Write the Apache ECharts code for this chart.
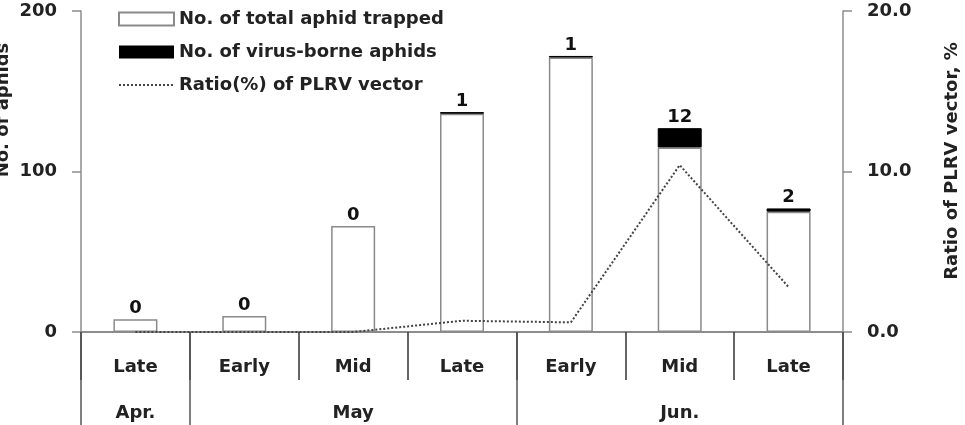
<!DOCTYPE html>
<html>
<head>
<meta charset="utf-8">
<script src="https://cdn.jsdelivr.net/npm/echarts@6/dist/echarts.min.js"></script>
<style>
  html, body { margin: 0; padding: 0; background: #fff; }
  #chart { width: 965px; height: 425px; }
</style>
</head>
<body>
<div id="chart"></div>
<script>
// periods within each month, and the month row under them
const periods = ['Late', 'Early', 'Mid', 'Late ', 'Early ', 'Mid ', 'Late  ']
const monthLabels = ['Apr.', '', 'May', '', '', 'Jun.', '']
const monthStarts = [0, 1, 4]

// aphid counts (left axis) and ratio (right axis)
const totalTrapped = [8, 10, 66, 136, 171, 115, 75]
const virusBorne = [0, 0, 0, 1, 1, 12, 2]
const ratioPLRV = [0, 0, 0, 0.7, 0.6, 10.4, 2.8]

const leftTicks = { min: 0, max: 200, interval: 100 }
const rightTicks = { min: 0, max: 20, interval: 10 }

const font = 'DejaVu Sans'
const axisGray = '#8c8c8c'

let myChart = echarts.init(document.getElementById('chart'))
let option = {
  animation: false,
  textStyle: { fontFamily: font },
  grid: { left: 81, right: 122, top: 11, bottom: 93 },
  legend: {
    orient: 'vertical',
    left: 118,
    top: 9,
    padding: 0,
    itemWidth: 55,
    itemHeight: 13,
    itemGap: 13,
    textStyle: { fontFamily: font, fontSize: 18, fontWeight: 'bold', color: '#222', lineHeight: 20 },
    data: [
      { name: 'No. of total aphid trapped', icon: 'rect' },
      { name: 'No. of virus-borne aphids', icon: 'rect' },
      { name: 'Ratio(%) of PLRV vector', itemStyle: { color: 'rgba(0,0,0,0)', borderWidth: 0 } }
    ]
  },
  xAxis: [
    {
      type: 'category',
      data: periods,
      position: 'bottom',
      axisLine: { show: true, onZero: false, lineStyle: { color: axisGray, width: 2 } },
      axisTick: { show: true, length: 48, lineStyle: { color: '#333', width: 1.5 } },
      axisLabel: {
        margin: 26,
        fontSize: 18,
        fontWeight: 'bold',
        color: '#222',
        formatter: function(v) { return v.trim() }
      }
    },
    {
      type: 'category',
      data: periods,
      position: 'bottom',
      axisLine: { show: false, onZero: false },
      axisTick: {
        show: true,
        length: 93,
        interval: function(i) { return monthStarts.indexOf(i) >= 0 },
        lineStyle: { color: '#555', width: 1.5 }
      },
      axisLabel: {
        interval: 0,
        margin: 72,
        fontSize: 18,
        fontWeight: 'bold',
        color: '#222',
        formatter: function(v, i) { return monthLabels[i] }
      }
    }
  ],
  yAxis: [
    {
      type: 'value',
      min: leftTicks.min,
      max: leftTicks.max,
      interval: leftTicks.interval,
      axisLine: { show: true, lineStyle: { color: axisGray, width: 1.5 } },
      axisTick: { show: true, length: 9, lineStyle: { color: axisGray, width: 1.5 } },
      splitLine: { show: false },
      axisLabel: { margin: 24, fontSize: 18, fontWeight: 'bold', color: '#222' }
    },
    {
      type: 'value',
      min: rightTicks.min,
      max: rightTicks.max,
      interval: rightTicks.interval,
      position: 'right',
      axisLine: { show: true, lineStyle: { color: axisGray, width: 1.5 } },
      axisTick: { show: true, length: 9, lineStyle: { color: axisGray, width: 1.5 } },
      splitLine: { show: false },
      axisLabel: {
        margin: 24,
        fontSize: 18,
        fontWeight: 'bold',
        color: '#222',
        formatter: function(v) { return v.toFixed(1) }
      }
    }
  ],
  series: [
    {
      name: 'No. of total aphid trapped',
      type: 'bar',
      stack: 'aphids',
      barWidth: 44,
      data: totalTrapped,
      itemStyle: { color: '#fff', borderColor: '#8a8a8a', borderWidth: 1.5 }
    },
    {
      name: 'No. of virus-borne aphids',
      type: 'bar',
      stack: 'aphids',
      barWidth: 44,
      // outline only the non-empty caps so zero bars leave no black edge
      data: virusBorne.map(function(v) {
        return { value: v, itemStyle: { borderWidth: v > 0 ? 1 : 0 } }
      }),
      itemStyle: { color: '#000', borderColor: '#000' },
      label: {
        show: true,
        position: 'top',
        distance: 2,
        fontSize: 18,
        fontWeight: 'bold',
        color: '#111'
      }
    },
    {
      name: 'Ratio(%) of PLRV vector',
      type: 'line',
      yAxisIndex: 1,
      symbol: 'none',
      data: ratioPLRV,
      lineStyle: { color: '#444', width: 2, type: 'dotted' },
      z: 5
    }
  ],
  graphic: [
    {
      type: 'text',
      x: 3,
      y: 110,
      rotation: Math.PI / 2,
      style: {
        text: 'No. of aphids',
        font: 'bold 18px "DejaVu Sans"',
        fill: '#222',
        align: 'center',
        verticalAlign: 'middle'
      }
    },
    {
      type: 'text',
      x: 952,
      y: 161,
      rotation: Math.PI / 2,
      style: {
        text: 'Ratio of PLRV vector, %',
        font: 'bold 18px "DejaVu Sans"',
        fill: '#222',
        align: 'center',
        verticalAlign: 'middle'
      }
    }
  ]
}
myChart.setOption(option)
window.addEventListener('resize', function() {
  myChart.resize()
})
</script>
</body>
</html>
